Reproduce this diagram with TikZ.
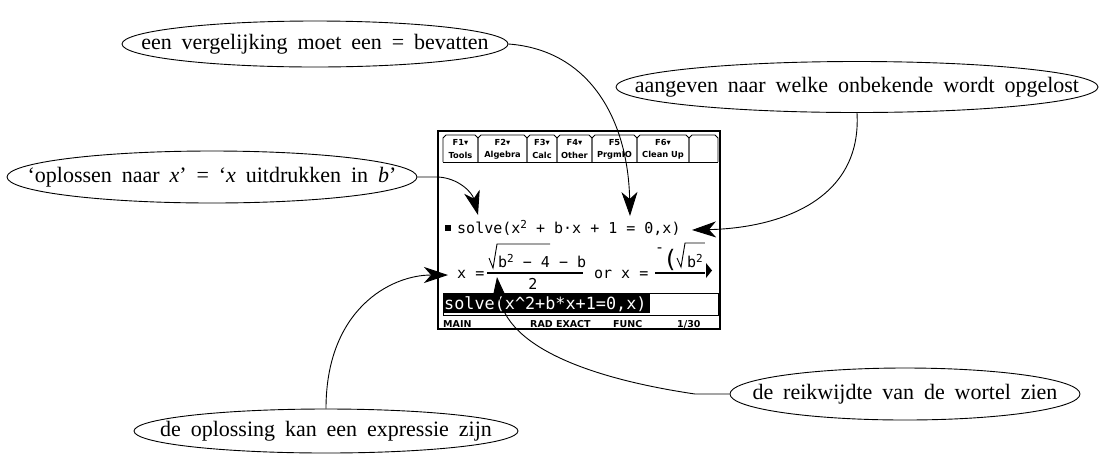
\documentclass[tikz,border=0pt]{standalone}
\usepackage{fontspec}
\setmainfont{Liberation Serif}
\newfontfamily\calcfont{DejaVu Sans}
\newfontfamily\calcmono{DejaVu Sans Mono}
\usetikzlibrary{shapes.geometric,arrows.meta}
\newcommand\bubtxt[1]{\spaceskip=0.45em plus 0.1em\relax #1}
\newcommand\tisup[1]{\raisebox{5pt}{\fontsize{11}{11}\selectfont #1}}
\begin{document}
\begin{tikzpicture}[x=1pt,y=-1pt,
  bubble/.style={draw,ellipse,line width=0.9pt,inner xsep=-300pt,inner ysep=-100pt,
    font=\fontsize{22}{26}\selectfont},
  conn/.style={line width=0.9pt,-{Stealth[length=24pt,width=16pt,inset=7pt]}},
  tablab/.style={inner sep=0pt,font=\calcfont\bfseries\fontsize{8.3}{9}\selectfont},
  calctext/.style={inner sep=0pt,anchor=base west,font=\calcmono\fontsize{15}{16}\selectfont},
  stat/.style={inner sep=0pt,anchor=base west,font=\calcfont\bfseries\fontsize{9.5}{10}\selectfont}]
\useasboundingbox (0,0) rectangle (1105,459);

% ---- calculator screen ----
\draw[line width=2.6pt] (438,131) rectangle (720,329);
\foreach \a/\b/\top/\bot/\n in {443/478/F1▾/Tools/1,478/527/F2▾/Algebra/2,527/557/F3▾/Calc/3,557/592/F4▾/Other/4,592/637/F5/PrgmIO/5,637/689/F6▾/Clean Up/6}{
  \draw[line width=0.8pt] (\a,162) -- (\a,138) -- (\a+3,135) -- (\b-3,135) -- (\b,138) -- (\b,162);
  \node[tablab] (tu\n) at ({(\a+\b)/2},142.5) {\top};
  \node[tablab] (tl\n) at ({(\a+\b)/2},155) {\bot};
}
\draw[line width=0.8pt] (689,162) -- (689,138) -- (692,135) -- (715,135) -- (718,138) -- (718,162);
\draw[line width=0.8pt] (443,162) -- (718,162);

\node[fill,minimum size=6pt,inner sep=0pt] (sq) at (448,228) {};
\node[calctext] (line1) at (457,233) {solve(x\tisup{2} + b·x + 1 = 0,x)};

\node[calctext] (xeq1) at (457,278) {x =};
\draw[line width=1.6pt] (487,273) -- (583,273);
\draw[line width=0.9pt] (489,258) -- (493,268) -- (497,244) -- (550,244);
\node[calctext] (num1) at (498,267) {b\tisup{2} − 4 − b};
\node[calctext,anchor=base] (den1) at (533,289) {2};
\node[calctext] (or) at (594,278) {or};
\node[calctext] (xeq2) at (621,278) {x =};
\draw[line width=1.6pt] (655,273) -- (705,273);
\node[calctext] (num2a) at (655,252) {-};
\node[calctext,font=\calcfont\fontsize{24}{24}\selectfont] (num2b) at (666,267) {(};
\draw[line width=0.9pt] (677,258) -- (681,267) -- (685,243) -- (705,243);
\node[calctext] (num2c) at (687,267) {b\tisup{2}};
\fill[white] (705,238) rectangle (712,271);
\fill (706,263) -- (712,270.5) -- (706,278) -- cycle;

\draw[line width=0.8pt] (443,293) rectangle (718,315);
\fill (443,293) rectangle (650,313);
\node[calctext,text=white,font=\calcmono\fontsize{16.8}{18}\selectfont] (entry) at (444,309) {solve(x\textasciicircum 2+b*x+1=0,x)};

\node[stat] (s1) at (443,327) {MAIN};
\node[stat] (s2) at (530,327) {RAD EXACT};
\node[stat] (s3) at (613,327) {FUNC};
\node[stat] (s4) at (677,327) {1/30};

% ---- bubbles ----
\node[bubble,minimum width=386pt,minimum height=46pt] (e1) at (315,44) {\bubtxt{een vergelijking moet een = bevatten}};
\node[bubble,minimum width=482pt,minimum height=51pt] (e2) at (857,87) {\bubtxt{aangeven naar welke onbekende wordt opgelost}};
\node[bubble,minimum width=410pt,minimum height=52pt] (e3) at (212,177) {\bubtxt{‘oplossen naar \textit{x}’ = ‘\textit{x} uitdrukken in \textit{b}’}};
\node[bubble,minimum width=384pt,minimum height=44pt] (e4) at (326,431) {\bubtxt{de oplossing kan een expressie zijn}};
\node[bubble,minimum width=350pt,minimum height=52pt] (e5) at (905,394) {\bubtxt{de reikwijdte van de wortel zien}};

% ---- targets ----
\coordinate (tA) at (630,216);
\coordinate (tB) at (692,230);
\coordinate (tC) at (478,215);
\coordinate (tD) at (448,275);
\coordinate (tE) at (497,277);

\draw[conn] (e1.east) .. controls (590,50) and (628,120) .. (tA);
\draw[conn] (e2.south) .. controls (862,200) and (780,228) .. (tB);
\draw[conn] (e3.east) -- (438,177) .. controls (458,178) and (472,192) .. (tC);
\draw[conn] (e4.north) .. controls (326,310) and (390,275) .. (tD);
\draw[conn] (e5.west) -- (695,394) .. controls (600,380) and (505,350) .. (tE);
\end{tikzpicture}
\end{document}
